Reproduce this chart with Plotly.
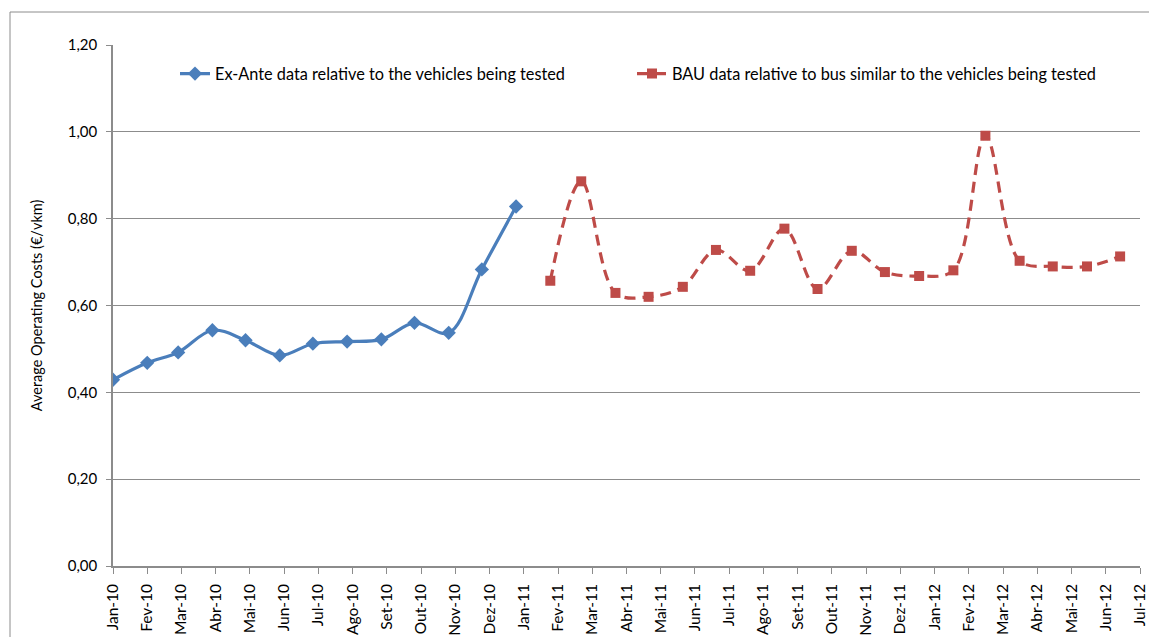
import pandas as pd
import plotly.graph_objects as go

# Monthly average operating costs (€/vkm)
exante_months = pd.date_range("2010-01-01", periods=13, freq="MS")
exante_costs = [0.429, 0.468, 0.492, 0.543, 0.520, 0.485, 0.512, 0.517,
                0.522, 0.560, 0.537, 0.683, 0.828]

bau_months = pd.date_range("2011-02-01", periods=18, freq="MS")
bau_costs = [0.657, 0.886, 0.629, 0.620, 0.643, 0.728, 0.680, 0.777, 0.638,
             0.726, 0.677, 0.668, 0.681, 0.991, 0.703, 0.690, 0.690, 0.713]

tick_labels = ["Jan-10", "Fev-10", "Mar-10", "Abr-10", "Mai-10", "Jun-10",
               "Jul-10", "Ago-10", "Set-10", "Out-10", "Nov-10", "Dez-10",
               "Jan-11", "Fev-11", "Mar-11", "Abr-11", "Mai-11", "Jun-11",
               "Jul-11", "Ago-11", "Set-11", "Out-11", "Nov-11", "Dez-11",
               "Jan-12", "Fev-12", "Mar-12", "Abr-12", "Mai-12", "Jun-12",
               "Jul-12"]

# Axis ticks every 31 days from the start date
axis_start = pd.Timestamp("2010-01-01")
tick_dates = [axis_start + pd.Timedelta(days=31 * k) for k in range(len(tick_labels))]
axis_end = tick_dates[-1]

BLUE = "#4A7EBB"
RED = "#BE4B48"
GRID = "#8C8C8C"
FONT = "Lato"

fig = go.Figure()

fig.add_trace(go.Scatter(
    x=exante_months, y=exante_costs,
    mode="lines+markers",
    name="Ex-Ante data relative to the vehicles being tested",
    line=dict(color=BLUE, width=3.2, shape="spline"),
    marker=dict(symbol="diamond", size=11, color=BLUE),
    legend="legend", showlegend=True,
))

fig.add_trace(go.Scatter(
    x=bau_months, y=bau_costs,
    mode="lines+markers",
    name="BAU data relative to bus similar to the vehicles being tested",
    line=dict(color=RED, width=3.2, shape="spline", dash="11px,7px"),
    marker=dict(symbol="square", size=10, color=RED),
    legend="legend2", showlegend=True,
))

W, H = 1149, 637
ML, MR, MT, MB = 113, 9, 45, 71
pw, ph = W - ML - MR, H - MT - MB


def px_x(p):
    return (p - ML) / pw


def px_y(p):
    return (H - MB - p) / ph


fig.update_layout(
    width=W, height=H,
    margin=dict(l=ML, r=MR, t=MT, b=MB, autoexpand=False),
    paper_bgcolor="white", plot_bgcolor="white",
    separators=",.",
    showlegend=True,
    font=dict(family=FONT, size=15, color="#000000"),
    legend=dict(
        x=px_x(175), y=px_y(74), xanchor="left", yanchor="middle",
        orientation="h", bgcolor="rgba(0,0,0,0)",
        font=dict(family=FONT, size=16.3, color="#000000"),
    ),
    legend2=dict(
        x=px_x(632), y=px_y(74), xanchor="left", yanchor="middle",
        orientation="h", bgcolor="rgba(0,0,0,0)",
        font=dict(family=FONT, size=16.3, color="#000000"),
    ),
    xaxis=dict(
        type="date",
        range=[axis_start, axis_end],
        tickmode="array", tickvals=tick_dates, ticktext=tick_labels,
        tickangle=-90, automargin=False,
        ticks="outside", ticklen=6, tickcolor=GRID, tickwidth=1,
        ticklabelstandoff=4,
        showline=True, linecolor=GRID, linewidth=1.5,
        showgrid=False, zeroline=False,
        tickfont=dict(family=FONT, size=15.5),
    ),
    yaxis=dict(
        range=[0, 1.2], dtick=0.2, tick0=0, tickformat=".2f",
        automargin=False,
        ticks="outside", ticklen=5, tickcolor=GRID, tickwidth=1,
        ticklabelstandoff=6,
        showline=True, linecolor=GRID, linewidth=1.5,
        showgrid=True, gridcolor=GRID, gridwidth=1,
        zeroline=False,
        tickfont=dict(family=FONT, size=15),
        title=dict(text="Average Operating Costs (€/vkm)",
                   font=dict(family=FONT, size=14.5), standoff=22),
    ),
    shapes=[dict(
        type="rect", xref="paper", yref="paper",
        x0=px_x(10), x1=px_x(W + 20), y0=px_y(H + 20), y1=px_y(12),
        line=dict(color=GRID, width=1), fillcolor="rgba(0,0,0,0)",
        layer="below",
    )],
)

fig.write_html("out.html")
